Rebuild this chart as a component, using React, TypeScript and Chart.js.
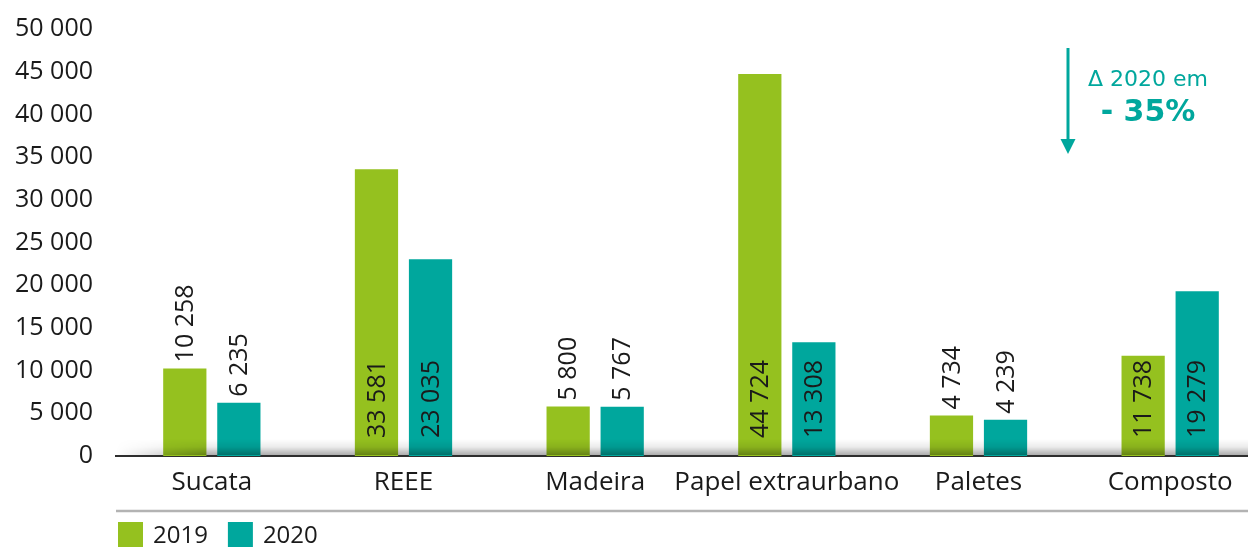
import React, { useEffect, useRef } from "react";
import { Chart, registerables } from "chart.js";

Chart.register(...registerables);

const categories = ["Sucata", "REEE", "Madeira", "Papel extraurbano", "Paletes", "Composto"];
const values2019 = [10258, 33581, 5800, 44724, 4734, 11738];
const values2020 = [6235, 23035, 5767, 13308, 4239, 19279];
const seriesLabels = ["2019", "2020"];
const yMin = 0;
const yMax = 50000;
const yStep = 5000;
const annotationTitle = "Δ 2020 em";
const annotationValue = "- 35%";

const GREEN = "#95c11f";
const TEAL = "#00a79d";
const TEXT = "#1a1a1a";
const FONT = "'Open Sans', sans-serif";

const fmt = (v: number, sep: string) =>
  String(Math.round(v)).replace(/\B(?=(\d{3})+(?!\d))/g, sep);

const decorPlugin = {
  id: "decor",
  afterDatasetsDraw(chart: any) {
    const ctx = chart.ctx as CanvasRenderingContext2D;
    const area = chart.chartArea;
    // shadow above the axis
    const sh = 16;
    const off = document.createElement("canvas");
    off.width = Math.max(1, Math.round(chart.width - area.left));
    off.height = sh;
    const o = off.getContext("2d")!;
    const vg = o.createLinearGradient(0, 0, 0, sh);
    vg.addColorStop(0, "rgba(0,0,0,0)");
    vg.addColorStop(0.5, "rgba(0,0,0,0.08)");
    vg.addColorStop(1, "rgba(0,0,0,0.32)");
    o.fillStyle = vg;
    o.fillRect(0, 0, off.width, sh);
    o.globalCompositeOperation = "destination-in";
    const hg = o.createLinearGradient(0, 0, 90, 0);
    hg.addColorStop(0, "rgba(0,0,0,0)");
    hg.addColorStop(1, "rgba(0,0,0,1)");
    o.fillStyle = hg;
    o.fillRect(0, 0, off.width, sh);
    ctx.drawImage(off, area.left, area.bottom - 1 - sh);

    // value labels
    ctx.save();
    ctx.font = `25px ${FONT}`;
    ctx.fillStyle = TEXT;
    ctx.textBaseline = "middle";
    ctx.textAlign = "left";
    chart.data.datasets.forEach((ds: any, di: number) => {
      const meta = chart.getDatasetMeta(di);
      meta.data.forEach((bar: any, i: number) => {
        const v = ds.data[i] as number;
        const text = fmt(v, " ");
        const w = ctx.measureText(text).width;
        const { x, y, base } = bar.getProps(["x", "y", "base"], true);
        const h = base - y;
        const startY = h >= w + 20 ? base - 18 : y - 6;
        ctx.save();
        ctx.translate(x, startY);
        ctx.rotate(-Math.PI / 2);
        ctx.fillText(text, 0, 1);
        ctx.restore();
      });
    });
    ctx.restore();
  },
  afterDraw(chart: any) {
    const ctx = chart.ctx as CanvasRenderingContext2D;
    const area = chart.chartArea;
    ctx.save();
    // separator line
    ctx.strokeStyle = "#b3b3b3";
    ctx.lineWidth = 2.5;
    ctx.beginPath();
    ctx.moveTo(area.left, 511);
    ctx.lineTo(chart.width, 511);
    ctx.stroke();

    // legend
    ctx.font = `24px ${FONT}`;
    ctx.textBaseline = "middle";
    ctx.textAlign = "left";
    let lx = area.left + 2;
    chart.data.datasets.forEach((ds: any) => {
      ctx.fillStyle = ds.backgroundColor;
      ctx.fillRect(lx, 522, 25, 25);
      ctx.fillStyle = TEXT;
      ctx.fillText(ds.label, lx + 35, 536);
      lx += 35 + ctx.measureText(ds.label).width + 20;
    });

    // annotation
    const ax = 1068;
    ctx.strokeStyle = TEAL;
    ctx.fillStyle = TEAL;
    ctx.lineWidth = 3;
    ctx.beginPath();
    ctx.moveTo(ax, 48);
    ctx.lineTo(ax, 141);
    ctx.stroke();
    ctx.beginPath();
    ctx.moveTo(ax - 7.5, 139);
    ctx.lineTo(ax + 7.5, 139);
    ctx.lineTo(ax, 154);
    ctx.closePath();
    ctx.fill();
    ctx.textAlign = "center";
    ctx.font = `22px 'DejaVu Sans', sans-serif`;
    ctx.fillText(annotationTitle, 1148, 80);
    ctx.font = `bold 30px 'DejaVu Sans', sans-serif`;
    ctx.fillText(annotationValue, 1148, 113);
    ctx.restore();
  },
};

export default function App() {
  const ref = useRef<HTMLCanvasElement | null>(null);
  useEffect(() => {
    if (!ref.current) return;
    const chart = new Chart(ref.current, {
      type: "bar",
      data: {
        labels: categories,
        datasets: [
          { label: seriesLabels[0], data: values2019, backgroundColor: GREEN, borderWidth: 0 },
          { label: seriesLabels[1], data: values2020, backgroundColor: TEAL, borderWidth: 0 },
        ],
      },
      options: {
        responsive: false,
        animation: false,
        devicePixelRatio: 1,
        layout: { padding: { top: 29, right: 4, bottom: 0, left: 0 } },
        datasets: { bar: { categoryPercentage: 0.564, barPercentage: 0.8 } },
        plugins: { legend: { display: false }, tooltip: { enabled: false } },
        scales: {
          x: {
            grid: { display: false, drawTicks: false },
            border: { display: true, color: "#2e2e2e", width: 2 },
            ticks: {
              color: TEXT,
              font: { family: FONT, size: 26 },
              padding: 11,
              maxRotation: 0,
              autoSkip: false,
            },
            afterFit: (s: any) => {
              s.height = 91;
              s.paddingLeft = 0;
              s.paddingRight = 0;
            },
          },
          y: {
            min: yMin,
            max: yMax,
            grid: { display: false, drawTicks: false },
            border: { display: false },
            ticks: {
              stepSize: yStep,
              color: TEXT,
              font: { family: FONT, size: 25 },
              padding: 23,
              callback: (v: any) => fmt(Number(v), " "),
            },
            afterFit: (s: any) => {
              s.width = 116;
              s.paddingTop = 0;
              s.paddingBottom = 0;
            },
          },
        },
      },
      plugins: [decorPlugin],
    });
    return () => chart.destroy();
  }, []);
  return (
    <div
      style={{
        position: "fixed",
        left: 0,
        top: 0,
        width: 1248,
        height: 547,
        overflow: "hidden",
        background: "#fff",
      }}
    >
      <canvas ref={ref} width={1270} height={547} style={{ width: 1270, height: 547, display: "block" }} />
    </div>
  );
}
